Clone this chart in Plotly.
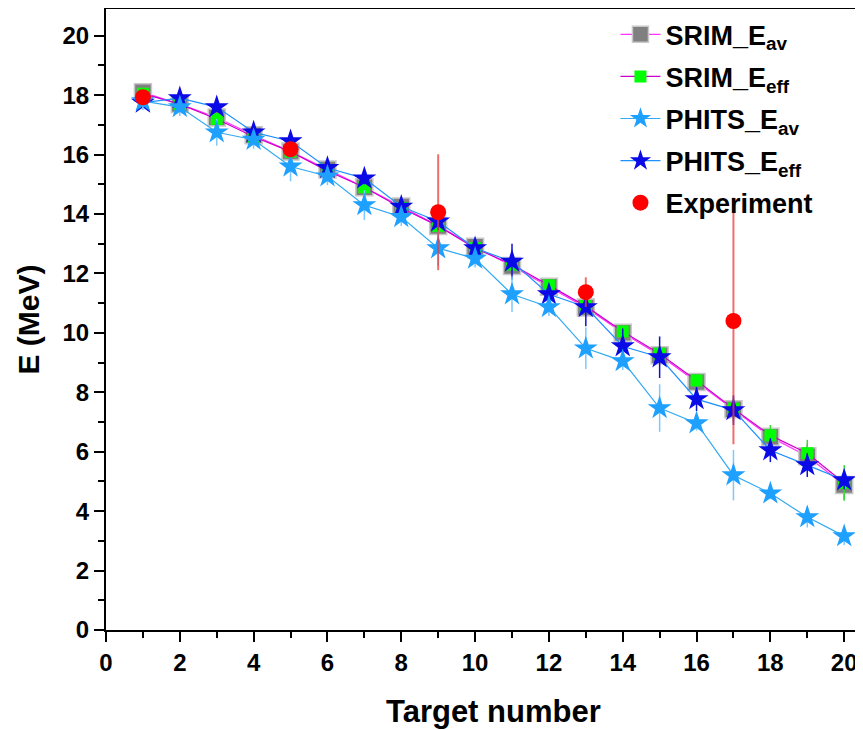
import plotly.graph_objects as go

targets = list(range(1, 21))

srim_eav = [18.1, 17.7, 17.25, 16.65, 16.1, 15.5, 14.9, 14.25, 13.6, 12.9,
            12.25, 11.55, 10.85, 10.0, 9.25, 8.35, 7.43, 6.5, 5.85, 4.88]
srim_eav_err = [0.1, 0.1, 0.15, 0.1, 0.15, 0.1, 0.15, 0.1, 0.2, 0.15,
                0.2, 0.15, 0.3, 0.2, 0.3, 0.2, 0.4, 0.3, 0.4, 0.5]

srim_eeff = [18.05, 17.7, 17.2, 16.6, 16.1, 15.45, 14.9, 14.2, 13.6, 12.85,
             12.3, 11.6, 10.9, 10.05, 9.3, 8.4, 7.45, 6.55, 5.95, 4.95]
srim_eeff_err = [0.1, 0.1, 0.1, 0.1, 0.1, 0.1, 0.1, 0.1, 0.1, 0.1,
                 0.1, 0.1, 0.15, 0.15, 0.15, 0.2, 0.2, 0.35, 0.45, 0.6]

phits_eav = [17.8, 17.6, 16.75, 16.5, 15.6, 15.27, 14.3, 13.9, 12.85, 12.5,
             11.3, 10.87, 9.48, 9.05, 7.47, 6.96, 5.21, 4.6, 3.8, 3.16]
phits_eav_err = [0.3, 0.3, 0.45, 0.3, 0.5, 0.3, 0.5, 0.3, 0.6, 0.3,
                 0.6, 0.3, 0.7, 0.3, 0.8, 0.25, 0.85, 0.2, 0.35, 0.3]

phits_eeff = [17.75, 17.9, 17.6, 16.75, 16.45, 15.55, 15.2, 14.25, 13.75, 12.85,
              12.4, 11.3, 10.87, 9.55, 9.18, 7.77, 7.4, 6.05, 5.55, 5.04]
phits_eeff_err = [0.1, 0.15, 0.15, 0.15, 0.2, 0.2, 0.2, 0.2, 0.3, 0.3,
                  0.6, 0.3, 0.65, 0.6, 0.7, 0.4, 0.5, 0.4, 0.4, 0.3]

exp_x = [1, 5, 9, 13, 17]
exp_y = [17.93, 16.18, 14.06, 11.37, 10.4]
exp_err = [0.2, 0.25, 1.95, 0.5, 4.15]

FONT = "Arial, Liberation Sans, sans-serif"

fig = go.Figure()

fig.add_trace(go.Scatter(
    x=targets, y=srim_eav, mode="lines+markers", name="SRIM_E<sub>av</sub>",
    line=dict(color="#FF33FF", width=1.2),
    marker=dict(symbol="square", size=17, color="#808080",
                line=dict(color="#C8C8C8", width=1.5)),
    error_y=dict(type="data", array=srim_eav_err, color="#808080", thickness=1.5, width=0),
    legendrank=1, legendgroup="g1",
))
fig.add_trace(go.Scatter(
    x=targets, y=srim_eeff, mode="lines+markers", name="SRIM_E<sub>eff</sub>",
    line=dict(color="#CC00CC", width=1.2),
    marker=dict(symbol="square", size=12, color="#00FF00", line=dict(width=0)),
    error_y=dict(type="data", array=srim_eeff_err, color="#33DD33", thickness=1.5, width=0),
    legendrank=2, legendgroup="g2",
))
fig.add_trace(go.Scatter(
    x=targets, y=phits_eeff, mode="lines+markers", name="PHITS_E<sub>eff</sub>",
    line=dict(color="#1E90FF", width=1.2),
    marker=dict(symbol="star", size=18, color="#0A0AE6", line=dict(width=0)),
    error_y=dict(type="data", array=phits_eeff_err, color="#1010D0", thickness=1.5, width=0),
    legendrank=4, legendgroup="g4",
))
fig.add_trace(go.Scatter(
    x=targets, y=phits_eav, mode="lines+markers", name="PHITS_E<sub>av</sub>",
    line=dict(color="#33AAF0", width=1.2),
    marker=dict(symbol="star", size=18, color="#1EA0FF", line=dict(width=0)),
    error_y=dict(type="data", array=phits_eav_err, color="#7CC8FF", thickness=1.5, width=0),
    legendrank=3, legendgroup="g3",
))
fig.add_trace(go.Scatter(
    x=exp_x, y=exp_y, mode="markers", name="Experiment",
    marker=dict(symbol="circle", size=16, color="#FF0000", line=dict(width=0)),
    error_y=dict(type="data", array=exp_err, color="rgba(235,60,60,0.75)", thickness=2, width=0),
    legendrank=5, legendgroup="g5",
))

axis_common = dict(
    showline=True, linecolor="black", linewidth=2,
    ticks="outside", ticklen=10, tickwidth=2, tickcolor="black",
    showgrid=False, zeroline=False, automargin=False,
    tickfont=dict(family=FONT, size=24, color="black", weight="bold"),
)

fig.update_xaxes(
    range=[0, 20.51], tickmode="linear", tick0=0, dtick=2,
    mirror=True,
    minor=dict(ticks="outside", ticklen=6, tickwidth=2, tickcolor="black", dtick=1, tick0=0),
    **axis_common,
)
fig.update_yaxes(
    range=[0, 20.9], tickmode="linear", tick0=0, dtick=2,
    minor=dict(ticks="outside", ticklen=6, tickwidth=2, tickcolor="black", dtick=1, tick0=0),
    title=dict(text="<b>E (MeV)</b>", font=dict(family=FONT, size=30, color="black"), standoff=14),
    **axis_common,
)

fig.add_annotation(
    text="<b>Target number</b>", xref="paper", yref="paper",
    x=0.5125, y=-0.132, xanchor="center", yanchor="middle", showarrow=False,
    font=dict(family=FONT, size=31, color="black"),
)

fig.update_layout(
    width=855, height=722,
    margin=dict(l=98, r=0, t=1, b=100),
    plot_bgcolor="white", paper_bgcolor="white",
    legend=dict(
        x=0.673, y=0.998, xanchor="left", yanchor="top",
        bgcolor="rgba(0,0,0,0)", borderwidth=0,
        font=dict(family=FONT, size=27, color="black", weight="bold"),
        itemwidth=40, tracegroupgap=4,
    ),
)

fig.write_html("out.html")
